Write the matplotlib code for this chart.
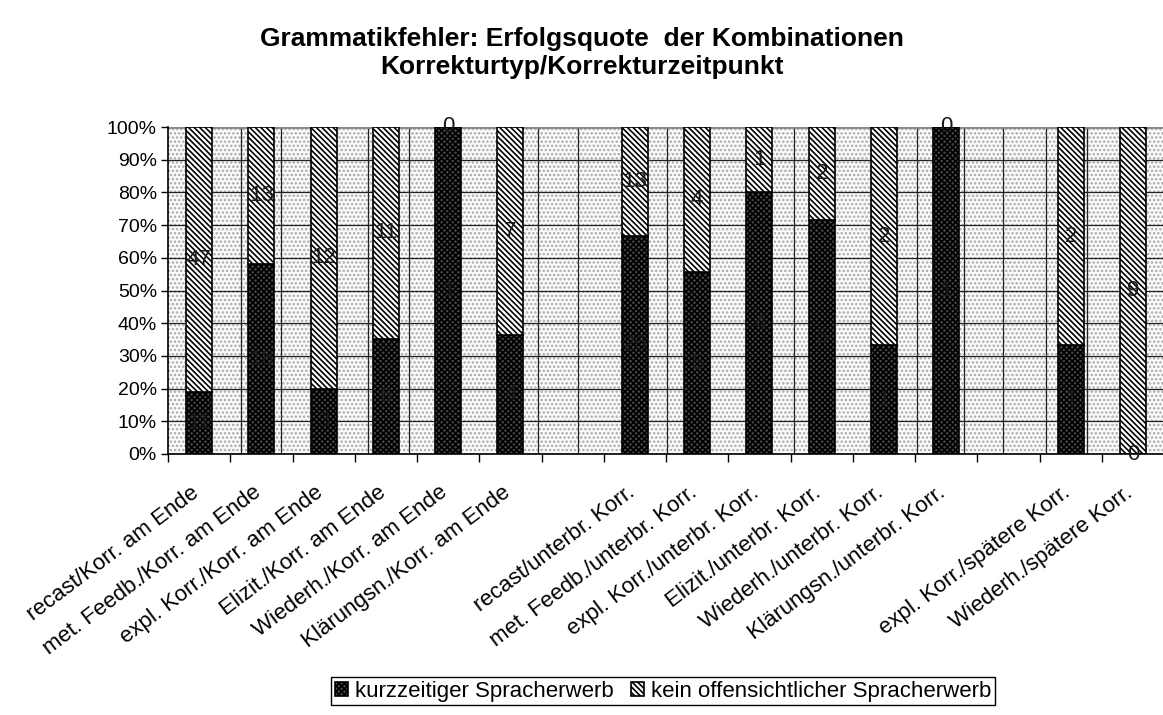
import numpy as np
import matplotlib
matplotlib.use("Agg")
import matplotlib.pyplot as plt
from matplotlib.patches import Rectangle
from matplotlib.ticker import PercentFormatter
from matplotlib.transforms import ScaledTranslation

plt.rcParams["font.family"] = ["Liberation Sans", "DejaVu Sans"]
plt.rcParams["hatch.linewidth"] = 1.2

# categories ("" = empty slot between the groups)
categories = ["recast/Korr. am Ende", "met. Feedb./Korr. am Ende", "expl. Korr./Korr. am Ende",
              "Elizit./Korr. am Ende", "Wiederh./Korr. am Ende", "Klärungsn./Korr. am Ende", "",
              "recast/unterbr. Korr.", "met. Feedb./unterbr. Korr.", "expl. Korr./unterbr. Korr.",
              "Elizit./unterbr. Korr.", "Wiederh./unterbr. Korr.", "Klärungsn./unterbr. Korr.", "",
              "expl. Korr./spätere Korr.", "Wiederh./spätere Korr."]
# counts for the non-empty categories, in order
erwerb = [11, 18, 3, 6, 1, 4, 26, 5, 4, 5, 1, 1, 1, 0]
kein = [47, 13, 12, 11, 0, 7, 13, 4, 1, 2, 2, 0, 2, 9]
series_names = ["kurzzeitiger Spracherwerb", "kein offensichtlicher Spracherwerb"]
title_lines = ["Grammatikfehler: Erfolgsquote  der Kombinationen",
               "Korrekturtyp/Korrekturzeitpunkt"]

# odd vertical background lines of the original (category units)
bg_vlines = [0.67, 1.32, 2.72, 3.37, 5.45, 6.09, 7.51, 9.55, 11.54, 12.28, 12.92, 13.6, 14.26]

W, H = 1163, 715
fig = plt.figure(figsize=(W / 100, H / 100), dpi=100)
ax = fig.add_axes([168 / W, 1 - 454 / H, 996 / W, 327 / H])

pos = np.array([i for i, c in enumerate(categories) if c])
e = np.array(erwerb, dtype=float)
k = np.array(kein, dtype=float)
tot = e + k
share1 = e / tot
share2 = k / tot

# dotted background
ax.set_facecolor("#fbfbfb")
ax.add_patch(Rectangle((0, 0), 1, 1, transform=ax.transAxes, facecolor="none",
                       edgecolor="#a8a8a8", hatch="....", lw=0, zorder=0))
ax.set_axisbelow(True)
ax.yaxis.grid(True, color="#222222", lw=0.9)
ax.vlines(bg_vlines, 0, 1, color="#222222", lw=0.9, zorder=0.6)

b1 = ax.bar(pos, share1, width=0.42, color="#474747", edgecolor="black",
            hatch="xxxxxx", lw=1.2, label=series_names[0], zorder=2)
b2 = ax.bar(pos, share2, bottom=share1, width=0.42, color="white", edgecolor="black",
            hatch="\\\\\\\\\\\\", lw=1.2, label=series_names[1], zorder=2)

ax.bar_label(b1, labels=[str(v) for v in erwerb], label_type="center",
             fontsize=16, color="#1a1a1a", zorder=3)
ax.bar_label(b2, labels=[str(v) for v in kein], label_type="center",
             fontsize=16, color="#1a1a1a", zorder=3)

ax.set_xlim(-0.5, len(categories) - 0.5)
ax.set_ylim(0, 1)
ax.set_yticks(np.arange(0, 1.01, 0.1))
ax.yaxis.set_major_formatter(PercentFormatter(1.0, decimals=0))
ax.tick_params(axis="y", labelsize=14, length=5, width=1, pad=3)

ax.set_xticks(np.arange(-0.5, len(categories)))
ax.set_xticklabels([])
ax.tick_params(axis="x", length=6, width=1)

off = ScaledTranslation(-9 / 100, -28 / 100, fig.dpi_scale_trans)
for i, c in enumerate(categories):
    if c:
        ax.text(i, 0, c, transform=ax.get_xaxis_transform() + off, rotation=37,
                ha="right", va="top", rotation_mode="anchor", fontsize=16)

for s in ["top", "right"]:
    ax.spines[s].set_visible(False)
ax.spines["left"].set_linewidth(1.2)
ax.spines["bottom"].set_linewidth(1.2)
ax.axhline(1, color="#888888", lw=2, zorder=1)

fig.text(0.5, 1 - 39 / H, title_lines[0], ha="center", va="center", fontsize=19, weight="bold")
fig.text(0.5, 1 - 67 / H, title_lines[1], ha="center", va="center", fontsize=19, weight="bold")

leg = fig.legend(handles=[b1, b2], labels=series_names, loc="center",
                 bbox_to_anchor=(663 / W, 1 - 691 / H), ncol=2, frameon=True, fancybox=False,
                 edgecolor="black", framealpha=1, fontsize=16, handlelength=0.6,
                 handleheight=0.6, handletextpad=0.3, columnspacing=0.8, borderpad=0.15,
                 borderaxespad=0)
leg.get_frame().set_linewidth(1)

fig.savefig("out.png", dpi=100)
